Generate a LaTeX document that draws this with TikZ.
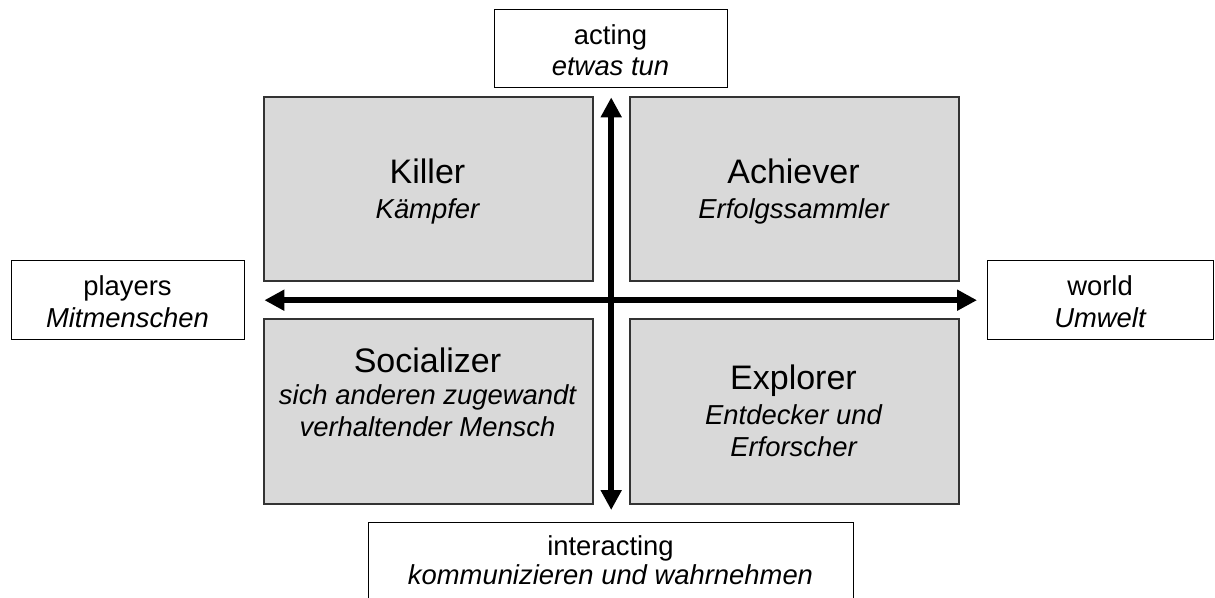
\documentclass[tikz,border=0pt]{standalone}
\usepackage{fontspec}
\setmainfont{Liberation Sans}
\usetikzlibrary{arrows.meta}
\definecolor{qfill}{HTML}{D9D9D9}
\definecolor{qline}{HTML}{333333}
\tikzset{
  labelbox/.style={draw=black, line width=1.4pt, fill=white, rectangle, inner sep=0pt, anchor=north west},
  quadbox/.style={draw=qline, line width=1.8pt, fill=qfill, rectangle, inner sep=0pt, anchor=north west},
  lbl/.style={anchor=base, inner sep=0pt, font=\fontsize{27.4}{31}\selectfont},
  sub/.style={anchor=base, inner sep=0pt, font=\fontsize{27.4}{31}\selectfont\itshape},
  ttl/.style={anchor=base, inner sep=0pt, font=\fontsize{34}{38}\selectfont},
  biarrow/.style={line width=6pt, {Triangle[length=20pt,width=20pt]}-{Triangle[length=20pt,width=20pt]}}
}
\begin{document}
\begin{tikzpicture}[x=1pt,y=-1pt]
\useasboundingbox (0,0) rectangle (1215,597);
% label boxes
\node[labelbox, minimum width=233pt, minimum height=78pt] (top) at (494,9) {};
\node[labelbox, minimum width=233pt, minimum height=79pt] (players) at (11,260) {};
\node[labelbox, minimum width=226pt, minimum height=79pt] (world) at (987,260) {};
\node[labelbox, minimum width=485pt, minimum height=100pt] (bottom) at (368,522) {};
% quadrant boxes
\node[quadbox, minimum width=329pt, minimum height=184pt] (killer) at (263,96) {};
\node[quadbox, minimum width=329pt, minimum height=184pt] (achiever) at (629,96) {};
\node[quadbox, minimum width=329pt, minimum height=185pt] (socializer) at (263,318) {};
\node[quadbox, minimum width=329pt, minimum height=185pt] (explorer) at (629,318) {};
% arrows
\draw[biarrow, shorten <=19pt, shorten >=10pt] (players.east) -- (world.west);
\draw[biarrow, shorten <=9pt, shorten >=12pt] (top.south) -- (bottom.north);
% texts
\node[lbl] (t1) at (610.5,44) {acting};
\node[sub] (t2) at (610.5,75) {etwas tun};
\node[lbl] (p1) at (127.5,295) {players};
\node[sub] (p2) at (127.5,327) {Mitmenschen};
\node[lbl] (w1) at (1100,295) {world};
\node[sub] (w2) at (1100,327) {Umwelt};
\node[lbl] (b1) at (610.5,555) {interacting};
\node[sub] (b2) at (610.5,584) {kommunizieren und wahrnehmen};
\node[ttl] (k1) at (427.5,183) {Killer};
\node[sub] (k2) at (427.5,218) {Kämpfer};
\node[ttl] (a1) at (793.5,183) {Achiever};
\node[sub] (a2) at (793.5,218) {Erfolgssammler};
\node[ttl] (s1) at (427.5,372) {Socializer};
\node[sub] (s2) at (427.5,404) {sich anderen zugewandt};
\node[sub] (s3) at (427.5,436) {verhaltender Mensch};
\node[ttl] (e1) at (793.5,389) {Explorer};
\node[sub] (e2) at (793.5,424) {Entdecker und};
\node[sub] (e3) at (793.5,456) {Erforscher};
\end{tikzpicture}
\end{document}
